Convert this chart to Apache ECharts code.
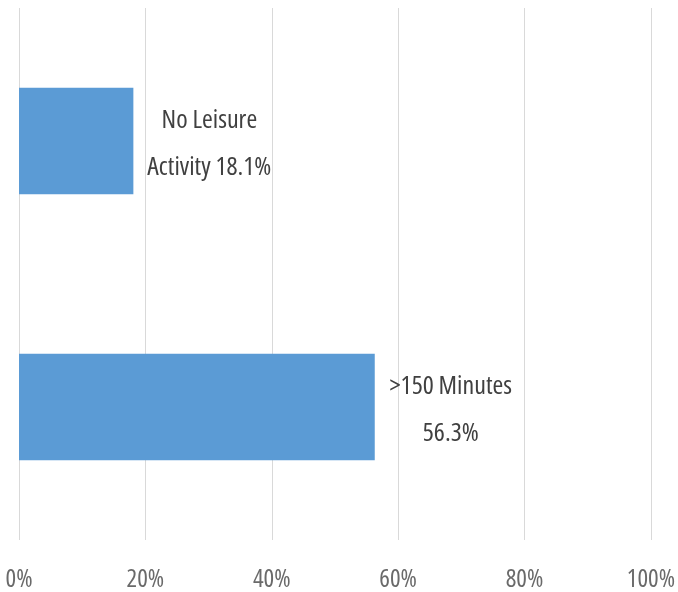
<!DOCTYPE html>
<html>
<head>
<meta charset="utf-8">
<script src="https://cdn.jsdelivr.net/npm/echarts@6/dist/echarts.min.js"></script>
<style>
html,body{margin:0;padding:0;background:#fff;overflow:hidden;}
#chart{width:678px;height:592px;}
</style>
</head>
<body>
<div id="chart"></div>
<script>
var categories = ['No Leisure Activity', '>150 Minutes'];
var values = [18.1, 56.3];
var labelLines = [['No Leisure', 'Activity 18.1%'], ['>150 Minutes', '56.3%']];
var xTicks = [0, 20, 40, 60, 80, 100];

var FONT = "'Open Sans', 'Roboto Condensed', sans-serif";
var chart = echarts.init(document.getElementById('chart'), null, {renderer: 'canvas'});
chart.setOption({
  animation: false,
  backgroundColor: '#ffffff',
  grid: {left: 19, right: 23, top: 8, bottom: 48, containLabel: false},
  xAxis: {
    type: 'value',
    min: xTicks[0],
    max: xTicks[xTicks.length - 1],
    interval: xTicks[1] - xTicks[0],
    axisLine: {show: false},
    axisTick: {show: false},
    splitLine: {show: true, lineStyle: {color: '#d9d9d9', width: 1}},
    axisLabel: {
      formatter: '{value}%',
      color: '#6a6a6a',
      fontFamily: FONT,
      fontWeight: 'condensed',
      fontSize: 25,
      margin: 27
    }
  },
  yAxis: {
    type: 'category',
    data: categories,
    inverse: true,
    axisLine: {show: false},
    axisTick: {show: false},
    axisLabel: {show: false},
    splitLine: {show: false}
  },
  series: [{
    type: 'bar',
    data: values,
    barWidth: '40%',
    itemStyle: {color: '#5b9bd5'},
    label: {
      show: true,
      position: 'right',
      distance: 0,
      align: 'center',
      offset: [76, 3],
      color: '#404040',
      fontFamily: FONT,
      fontWeight: 'condensed',
      fontSize: 26,
      lineHeight: 47,
      formatter: function (p) { return labelLines[p.dataIndex].join('\n'); }
    }
  }]
});
</script>
</body>
</html>
